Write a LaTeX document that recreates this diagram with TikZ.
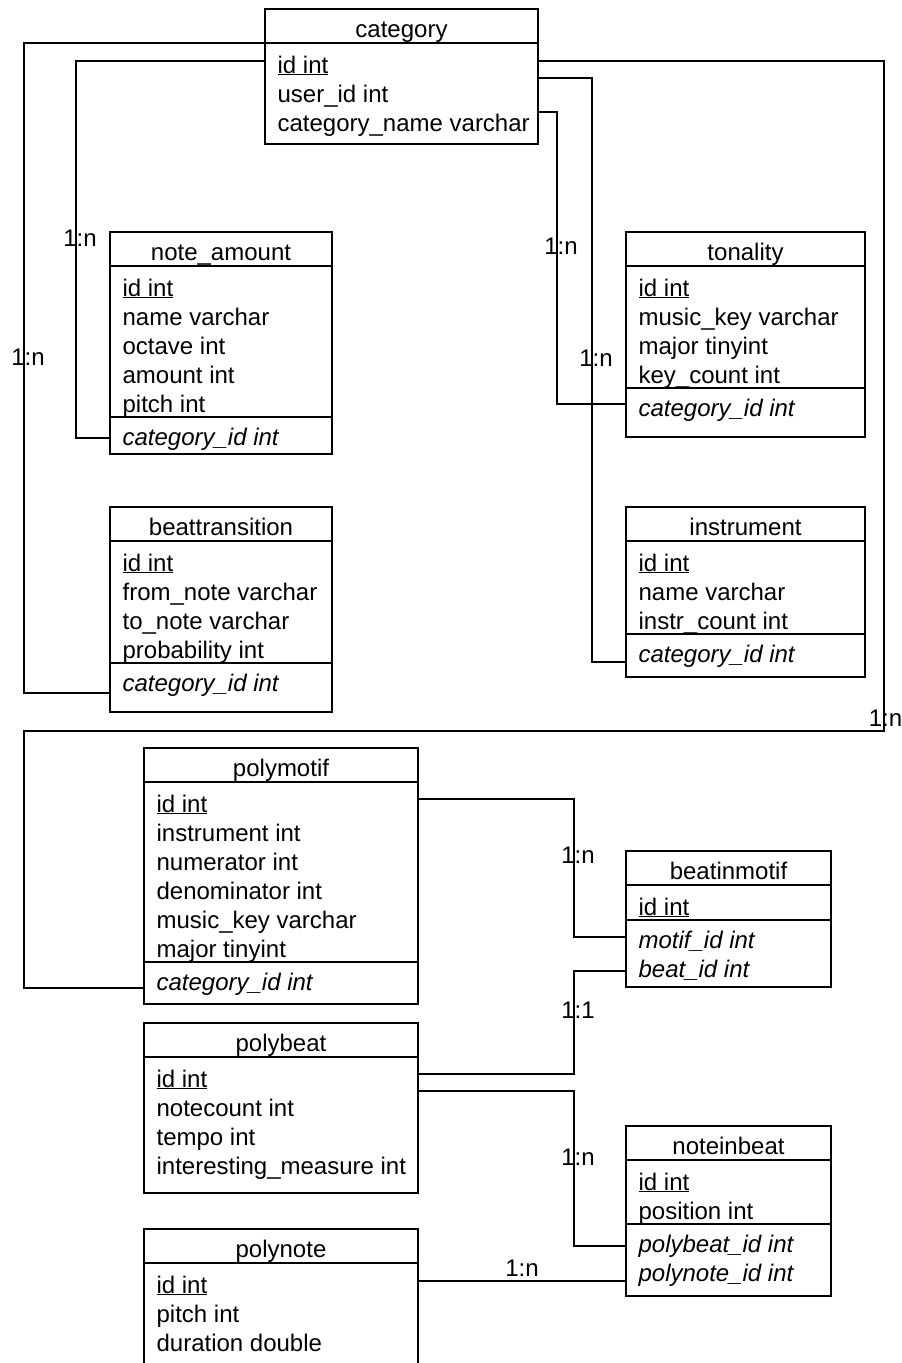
\documentclass[tikz,border=0pt]{standalone}
\usepackage{fontspec}
\setmainfont{Liberation Sans}

\begin{document}
\begin{tikzpicture}[x=1pt,y=-1pt,line width=1.2pt,
  every node/.style={font=\fontsize{24}{29}\selectfont},
  dbtable/.style={draw, rectangle, anchor=north west, inner sep=0pt, outer sep=0pt},
  tname/.style={anchor=base, inner sep=0pt},
  field/.style={anchor=base west, inner sep=0pt},
  fkfield/.style={field, font=\fontsize{24}{29}\selectfont\itshape},
  mult/.style={inner sep=0pt, xshift=4pt}]
\clip (0,0) rectangle (902,1363);

\node[dbtable, minimum width=273pt, minimum height=135pt] (category) at (265,9) {};
\node[tname] (category-t) at ([yshift=-28pt]category.north) {category};
\draw ([yshift=-34pt]category.north west) -- ([yshift=-34pt]category.north east);
\foreach \t [count=\i from 0] in {\underline{id int},user\_id int,category\_name varchar}
  \node[field] (category-f\i) at ([xshift=12pt,yshift={-64pt-29pt*\i}]category.north west) {\t};

\node[dbtable, minimum width=222pt, minimum height=222pt] (noteamount) at (110,232) {};
\node[tname] (noteamount-t) at ([yshift=-28pt]noteamount.north) {note\_amount};
\draw ([yshift=-34pt]noteamount.north west) -- ([yshift=-34pt]noteamount.north east);
\draw ([yshift=-185pt]noteamount.north west) -- ([yshift=-185pt]noteamount.north east);
\foreach \t [count=\i from 0] in {\underline{id int},name varchar,octave int,amount int,pitch int}
  \node[field] (noteamount-f\i) at ([xshift=12pt,yshift={-64pt-29pt*\i}]noteamount.north west) {\t};
\node[fkfield] (noteamount-k0) at ([xshift=12pt,yshift=-213pt]noteamount.north west) {category\_id int};

\node[dbtable, minimum width=239pt, minimum height=205pt] (tonality) at (626,232) {};
\node[tname] (tonality-t) at ([yshift=-28pt]tonality.north) {tonality};
\draw ([yshift=-34pt]tonality.north west) -- ([yshift=-34pt]tonality.north east);
\draw ([yshift=-156pt]tonality.north west) -- ([yshift=-156pt]tonality.north east);
\foreach \t [count=\i from 0] in {\underline{id int},music\_key varchar,major tinyint,key\_count int}
  \node[field] (tonality-f\i) at ([xshift=12pt,yshift={-64pt-29pt*\i}]tonality.north west) {\t};
\node[fkfield] (tonality-k0) at ([xshift=12pt,yshift=-184pt]tonality.north west) {category\_id int};

\node[dbtable, minimum width=239pt, minimum height=170pt] (instrument) at (626,507) {};
\node[tname] (instrument-t) at ([yshift=-28pt]instrument.north) {instrument};
\draw ([yshift=-34pt]instrument.north west) -- ([yshift=-34pt]instrument.north east);
\draw ([yshift=-127pt]instrument.north west) -- ([yshift=-127pt]instrument.north east);
\foreach \t [count=\i from 0] in {\underline{id int},name varchar,instr\_count int}
  \node[field] (instrument-f\i) at ([xshift=12pt,yshift={-64pt-29pt*\i}]instrument.north west) {\t};
\node[fkfield] (instrument-k0) at ([xshift=12pt,yshift=-155pt]instrument.north west) {category\_id int};

\node[dbtable, minimum width=222pt, minimum height=205pt] (beattransition) at (110,507) {};
\node[tname] (beattransition-t) at ([yshift=-28pt]beattransition.north) {beattransition};
\draw ([yshift=-34pt]beattransition.north west) -- ([yshift=-34pt]beattransition.north east);
\draw ([yshift=-156pt]beattransition.north west) -- ([yshift=-156pt]beattransition.north east);
\foreach \t [count=\i from 0] in {\underline{id int},from\_note varchar,to\_note varchar,probability int}
  \node[field] (beattransition-f\i) at ([xshift=12pt,yshift={-64pt-29pt*\i}]beattransition.north west) {\t};
\node[fkfield] (beattransition-k0) at ([xshift=12pt,yshift=-184pt]beattransition.north west) {category\_id int};

\node[dbtable, minimum width=274pt, minimum height=256pt] (polymotif) at (144,748) {};
\node[tname] (polymotif-t) at ([yshift=-28pt]polymotif.north) {polymotif};
\draw ([yshift=-34pt]polymotif.north west) -- ([yshift=-34pt]polymotif.north east);
\draw ([yshift=-214pt]polymotif.north west) -- ([yshift=-214pt]polymotif.north east);
\foreach \t [count=\i from 0] in {\underline{id int},instrument int,numerator int,denominator int,music\_key varchar,major tinyint}
  \node[field] (polymotif-f\i) at ([xshift=12pt,yshift={-64pt-29pt*\i}]polymotif.north west) {\t};
\node[fkfield] (polymotif-k0) at ([xshift=12pt,yshift=-242pt]polymotif.north west) {category\_id int};

\node[dbtable, minimum width=205pt, minimum height=136pt] (beatinmotif) at (626,851) {};
\node[tname] (beatinmotif-t) at ([yshift=-28pt]beatinmotif.north) {beatinmotif};
\draw ([yshift=-34pt]beatinmotif.north west) -- ([yshift=-34pt]beatinmotif.north east);
\draw ([yshift=-69pt]beatinmotif.north west) -- ([yshift=-69pt]beatinmotif.north east);
\node[field] (beatinmotif-f0) at ([xshift=12pt,yshift=-64pt]beatinmotif.north west) {\underline{id int}};
\foreach \t [count=\i from 0] in {motif\_id int,beat\_id int}
  \node[fkfield] (beatinmotif-k\i) at ([xshift=12pt,yshift={-97pt-29pt*\i}]beatinmotif.north west) {\t};

\node[dbtable, minimum width=274pt, minimum height=170pt] (polybeat) at (144,1023) {};
\node[tname] (polybeat-t) at ([yshift=-28pt]polybeat.north) {polybeat};
\draw ([yshift=-34pt]polybeat.north west) -- ([yshift=-34pt]polybeat.north east);
\foreach \t [count=\i from 0] in {\underline{id int},notecount int,tempo int,interesting\_measure int}
  \node[field] (polybeat-f\i) at ([xshift=12pt,yshift={-64pt-29pt*\i}]polybeat.north west) {\t};

\node[dbtable, minimum width=205pt, minimum height=170pt] (noteinbeat) at (626,1126) {};
\node[tname] (noteinbeat-t) at ([yshift=-28pt]noteinbeat.north) {noteinbeat};
\draw ([yshift=-34pt]noteinbeat.north west) -- ([yshift=-34pt]noteinbeat.north east);
\draw ([yshift=-98pt]noteinbeat.north west) -- ([yshift=-98pt]noteinbeat.north east);
\foreach \t [count=\i from 0] in {\underline{id int},position int}
  \node[field] (noteinbeat-f\i) at ([xshift=12pt,yshift={-64pt-29pt*\i}]noteinbeat.north west) {\t};
\foreach \t [count=\i from 0] in {polybeat\_id int,polynote\_id int}
  \node[fkfield] (noteinbeat-k\i) at ([xshift=12pt,yshift={-126pt-29pt*\i}]noteinbeat.north west) {\t};

\node[dbtable, minimum width=274pt, minimum height=160pt] (polynote) at (144,1229) {};
\node[tname] (polynote-t) at ([yshift=-28pt]polynote.north) {polynote};
\draw ([yshift=-34pt]polynote.north west) -- ([yshift=-34pt]polynote.north east);
\foreach \t [count=\i from 0] in {\underline{id int},pitch int,duration double}
  \node[field] (polynote-f\i) at ([xshift=12pt,yshift={-64pt-29pt*\i}]polynote.north west) {\t};

\draw ([yshift=-34pt]category.north west) -- ++(-241,0) -- ++(0,314) node[mult] (m1) {1:n}
  |- ([yshift=-186pt]beattransition.north west);
\draw ([yshift=-52pt]category.north west) -- ++(-189,0) -- ++(0,177) node[mult] (m2) {1:n}
  |- ([yshift=-206pt]noteamount.north west);
\draw ([yshift=-52pt]category.north east) -- ++(346,0) -- ++(0,657) node[mult, xshift=-2.5pt] (m3) {1:n}
  |- ++(-860,13) |- ([yshift=-240pt]polymotif.north west);
\draw ([yshift=-69pt]category.north east) -- ++(54,0) -- ++(0,280) node[mult] (m4) {1:n}
  |- ([yshift=-155pt]instrument.north west);
\draw ([yshift=-103pt]category.north east) -- ++(19,0) -- ++(0,134) node[mult] (m5) {1:n}
  |- ([yshift=-172pt]tonality.north west);
\draw ([yshift=-51pt]polymotif.north east) -- ++(156,0) -- ++(0,56) node[mult] (m6) {1:n}
  |- ([yshift=-86pt]beatinmotif.north west);
\draw ([yshift=-51pt]polybeat.north east) -- ++(156,0) -- ++(0,-64) node[mult] (m7) {1:1}
  |- ([yshift=-120pt]beatinmotif.north west);
\draw ([yshift=-68pt]polybeat.north east) -- ++(156,0) -- ++(0,66) node[mult] (m8) {1:n}
  |- ([yshift=-120pt]noteinbeat.north west);
\draw ([yshift=-52pt]polynote.north east) -- node[midway, inner sep=0pt, yshift=13pt] (m9) {1:n}
  ([yshift=-155pt]noteinbeat.north west);
\end{tikzpicture}
\end{document}
